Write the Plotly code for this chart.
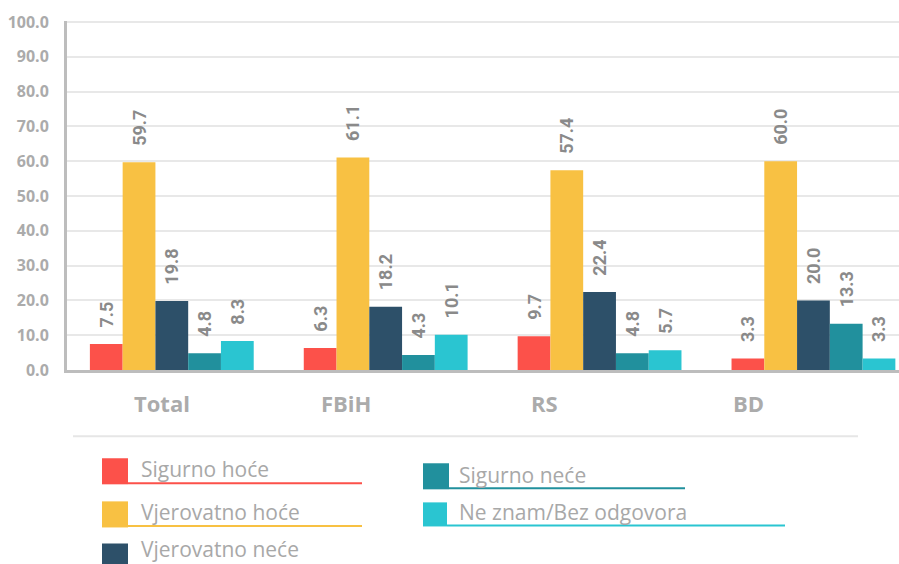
import plotly.graph_objects as go

categories = ['Total', 'FBiH', 'RS', 'BD']
series_names = ['Sigurno hoće', 'Vjerovatno hoće', 'Vjerovatno neće',
				'Sigurno neće', 'Ne znam/Bez odgovora']
sigurno_hoce = [7.5, 6.3, 9.7, 3.3]
vjerovatno_hoce = [59.7, 61.1, 57.4, 60.0]
vjerovatno_nece = [19.8, 18.2, 22.4, 20.0]
sigurno_nece = [4.8, 4.3, 4.8, 13.3]
ne_znam = [8.3, 10.1, 5.7, 3.3]
series_values = [sigurno_hoce, vjerovatno_hoce, vjerovatno_nece, sigurno_nece, ne_znam]
colors = ['#FC514A', '#F8C143', '#2D5069', '#21909D', '#2AC5D1']
y_ticks = [0, 10, 20, 30, 40, 50, 60, 70, 80, 90, 100]

# plot area in pixels (for placing the hand-made legend)
X0, W = 67, 832
Y0, H = 370, 348
def px(x): return (x - X0) / W
def py(y): return (Y0 - y) / H

# legend slots: square box, underline start/end/y, text x/y (pixels)
legend_slots = [
	{'sq': (102, 458, 128, 484), 'ul': (128, 362, 483), 'tx': (139, 469)},
	{'sq': (102, 501, 128, 527), 'ul': (128, 362, 525.5), 'tx': (139, 512)},
	{'sq': (102, 543, 128, 569), 'ul': None, 'tx': (139, 548)},
	{'sq': (423, 463, 449, 489), 'ul': (449, 685, 488), 'tx': (457, 475)},
	{'sq': (423, 502, 447, 526), 'ul': (447, 785, 525), 'tx': (457, 512)},
]
label_shift = [-10, -40, -55, -65]

fig = go.Figure()
for name, vals, col in zip(series_names, series_values, colors):
	fig.add_trace(go.Bar(x=categories, y=vals, name=name, marker_color=col,
			marker_line_width=0, texttemplate='\u00a0\u00a0\u00a0%{y:.1f}',
			textposition='outside', textangle=-90, constraintext='none',
			textfont=dict(family='Roboto', size=18, color='#8a8a8a', weight='bold'),
			cliponaxis=False))

shapes = [dict(type='line', xref='paper', yref='paper', x0=px(73), x1=px(858),
			y0=py(436), y1=py(436), line=dict(color='#e6e6e6', width=2))]
annotations = []
for cat, sh in zip(categories, label_shift):
	annotations.append(dict(x=cat, y=py(403), xref='x', yref='paper', text=cat,
			showarrow=False, xshift=sh, yanchor='middle',
			font=dict(family='Open Sans', size=22, color='#ababab', weight='bold')))

for name, col, slot in zip(series_names, colors, legend_slots):
	x0, y0, x1, y1 = slot['sq']
	shapes.append(dict(type='rect', xref='paper', yref='paper', x0=px(x0), x1=px(x1),
			y0=py(y1), y1=py(y0), fillcolor=col, line_width=0))
	if slot['ul']:
		ux0, ux1, uy = slot['ul']
		shapes.append(dict(type='line', xref='paper', yref='paper', x0=px(ux0), x1=px(ux1),
				y0=py(uy), y1=py(uy), line=dict(color=col, width=2)))
	tx, ty = slot['tx']
	annotations.append(dict(x=px(tx), y=py(ty), xref='paper', yref='paper', text=name,
			showarrow=False, xanchor='left', yanchor='middle',
			font=dict(family='Open Sans', size=21, color='#a8a8a8')))

fig.update_layout(
	width=899, height=564, plot_bgcolor='white', paper_bgcolor='white',
	margin=dict(l=X0, r=0, t=21, b=564 - Y0, pad=0),
	barmode='group', bargap=0.234, bargroupgap=0, showlegend=False,
	shapes=shapes, annotations=annotations,
	xaxis=dict(range=[-0.49, 3.40], showticklabels=False, showgrid=False,
			showline=True, linecolor='#bdbdbd', linewidth=3, ticks=''),
	yaxis=dict(range=[0, 100.3], tickvals=y_ticks, tickformat='.1f', showgrid=True,
			gridcolor='#e8e8e8', gridwidth=1.5, zeroline=False, showline=True,
			linecolor='#bdbdbd', linewidth=3, ticklabelstandoff=12,
			tickfont=dict(family='Open Sans', size=16, color='#ababab', weight='bold')),
)
fig.write_html("out.html", config={'displayModeBar': False},
		post_script="document.body.style.margin='0';")
